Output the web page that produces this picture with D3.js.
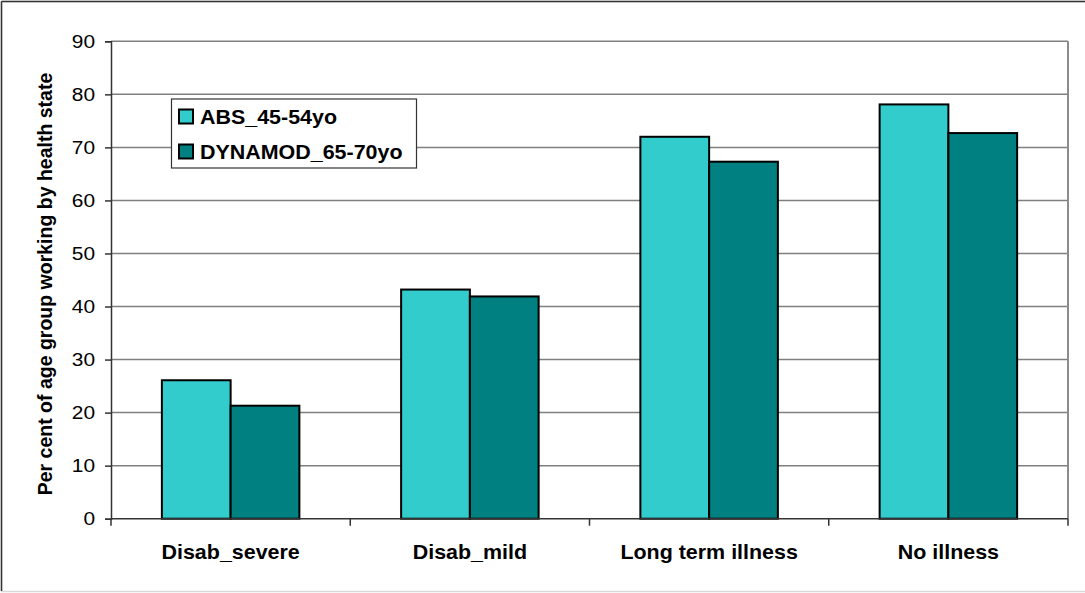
<!DOCTYPE html>
<html>
<head>
<meta charset="utf-8">
<script src="https://cdn.jsdelivr.net/npm/d3@7"></script>
<style>
  html, body { margin: 0; padding: 0; background: #fff; }
  svg { display: block; }
  text { font-family: Arial, "Liberation Sans", sans-serif; }
</style>
</head>
<body>
<svg id="chart" width="1085" height="593"></svg>
<script>
const categories = ["Disab_severe", "Disab_mild", "Long term illness", "No illness"];
const seriesNames = ["ABS_45-54yo", "DYNAMOD_65-70yo"];
const absValues = [26.1, 43.2, 72.0, 78.1];
const dynamodValues = [21.3, 41.9, 67.3, 72.7];
const yTicks = [0, 10, 20, 30, 40, 50, 60, 70, 80, 90];
const colors = ["#33CCCC", "#008080"];
const yTitle = "Per cent of age group working by health state";

(function() {
const seriesValues = [absValues, dynamodValues];
const svg = d3.select("#chart");
const W = 1085, H = 593;
const pLeft = 111, pRight = 1068, pTop = 41.3, pBottom = 518.7;
const sx = 1.1; // horizontal text stretch seen in reference

// outer border
svg.append("rect").attr("x", 1.5).attr("y", 1.5).attr("width", W + 10).attr("height", H - 3)
  .attr("fill", "#fff").attr("stroke", "#d9d9d9").attr("stroke-width", 1.5);
svg.append("line").attr("x1", 1.5).attr("x2", W).attr("y1", 1.5).attr("y2", 1.5)
  .attr("stroke", "#333").attr("stroke-width", 1.5);
svg.append("line").attr("x1", 1.5).attr("x2", 1.5).attr("y1", 1.5).attr("y2", H - 2)
  .attr("stroke", "#333").attr("stroke-width", 1.5);

const x = d3.scaleBand().domain(categories).range([pLeft, pRight]).paddingInner(0).paddingOuter(0);
const xs = d3.scaleBand().domain(seriesNames).range([0, x.bandwidth()]).paddingInner(0).paddingOuter(0.74);
const y = d3.scaleLinear().domain([0, 90]).range([pBottom, pTop]);

// gridlines
svg.append("g").selectAll("line").data(yTicks.filter(d => d > 0)).join("line")
  .attr("x1", pLeft).attr("x2", pRight)
  .attr("y1", d => y(d)).attr("y2", d => y(d))
  .attr("stroke", "#7f7f7f").attr("stroke-width", 1.5);
// plot right border
svg.append("line").attr("x1", pRight).attr("x2", pRight).attr("y1", pTop).attr("y2", pBottom)
  .attr("stroke", "#8c8c8c").attr("stroke-width", 2);

// bars
const groups = svg.append("g").selectAll("g").data(seriesNames).join("g");
groups.each(function(sName, si) {
  d3.select(this).selectAll("rect").data(categories).join("rect")
    .attr("x", c => x(c) + xs(sName))
    .attr("y", (c, ci) => y(seriesValues[si][ci]))
    .attr("width", xs.bandwidth())
    .attr("height", (c, ci) => y(0) - y(seriesValues[si][ci]))
    .attr("fill", colors[si])
    .attr("stroke", "#000").attr("stroke-width", 2);
});

// y axis
const yAxis = d3.axisLeft(y).tickValues(yTicks).tickSize(6).tickPadding(10).tickFormat(d3.format("d"));
const yg = svg.append("g").attr("transform", `translate(${pLeft},0)`).call(yAxis);
yg.select(".domain").attr("stroke", "#333").attr("stroke-width", 1.5);
yg.selectAll(".tick line").attr("stroke", "#333").attr("stroke-width", 1.5);
yg.selectAll(".tick text").attr("fill", "#000").attr("font-size", 19).attr("font-family", "Arial, 'Liberation Sans', sans-serif")
  .attr("transform", function() { const xx = +d3.select(this).attr("x"); return `translate(${xx},0) scale(${sx},1) translate(${-xx},0)`; });

// x axis
const boundaries = categories.map(c => x(c)).concat([pRight]);
svg.append("line").attr("x1", pLeft).attr("x2", pRight).attr("y1", pBottom).attr("y2", pBottom)
  .attr("stroke", "#333").attr("stroke-width", 1.5);
svg.append("g").selectAll("line").data(boundaries).join("line")
  .attr("x1", d => d).attr("x2", d => d).attr("y1", pBottom).attr("y2", pBottom + 7)
  .attr("stroke", "#333").attr("stroke-width", 1.5);
svg.append("g").selectAll("text").data(categories).join("text")
  .attr("transform", c => `translate(${x(c) + x.bandwidth() / 2},${559}) scale(${sx},1)`)
  .attr("text-anchor", "middle").attr("font-weight", "bold").attr("font-size", 19.5)
  .attr("fill", "#000").text(c => c);

// y title
svg.append("text")
  .attr("transform", `translate(52,${(pTop + pBottom) / 2 + 4}) rotate(-90)`)
  .attr("text-anchor", "middle").attr("font-weight", "bold").attr("font-size", 19.5)
  .attr("fill", "#000").text(yTitle);

// legend
const lg = svg.append("g");
lg.append("rect").attr("x", 171.5).attr("y", 99).attr("width", 245).attr("height", 69)
  .attr("fill", "#fff").attr("stroke", "#333").attr("stroke-width", 1.2);
const rowsY = [116.5, 151.5];
seriesNames.forEach((s, i) => {
  lg.append("rect").attr("x", 179).attr("y", rowsY[i] - 7).attr("width", 14).attr("height", 14)
    .attr("fill", colors[i]).attr("stroke", "#000").attr("stroke-width", 2);
  lg.append("text").attr("transform", `translate(200,${rowsY[i] + 7}) scale(${sx},1)`)
    .attr("font-weight", "bold").attr("font-size", 19.5).attr("fill", "#000").text(s);
});
})();
</script>
</body>
</html>
